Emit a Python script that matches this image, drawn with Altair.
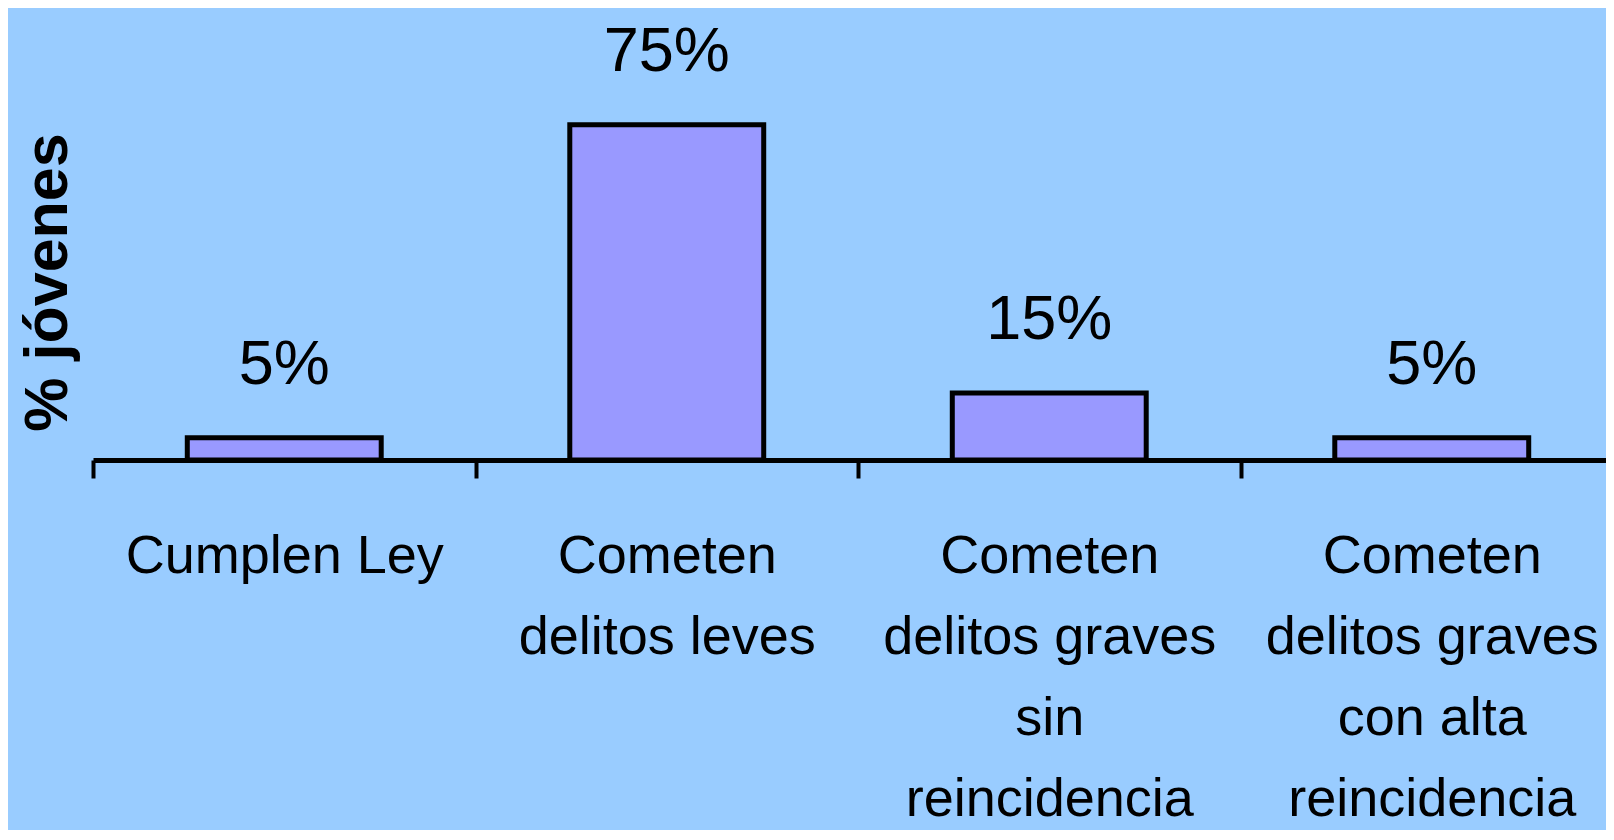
import altair as alt
import pandas as pd

categories = [
    "Cumplen Ley",
    "Cometen\ndelitos leves",
    "Cometen\ndelitos graves\nsin\nreincidencia",
    "Cometen\ndelitos graves\ncon alta\nreincidencia",
]
values = [5, 75, 15, 5]

df = pd.DataFrame({"cat": categories, "value": values})

FONT = "Liberation Sans, Arial, sans-serif"

x_enc = alt.X(
    "cat:N",
    sort=categories,
    scale=alt.Scale(range=[0, 1530], paddingInner=0, paddingOuter=0),
    axis=alt.Axis(
        title=None,
        labelAngle=0,
        labelExpr="split(datum.label, '\\n')",
        labelFont=FONT,
        labelFontSize=54,
        labelColor="black",
        labelLineHeight=81,
        labelBaseline="alphabetic",
        labelPadding=94,
        labelLimit=0,
        tickBand="extent",
        tickSize=18,
        tickWidth=4,
        tickColor="black",
        domainColor="black",
        domainWidth=5,
        grid=False,
    ),
)

y_enc = alt.Y(
    "value:Q",
    scale=alt.Scale(domain=[0, 100], nice=False, zero=True),
    axis=alt.Axis(
        title="% jóvenes",
        labels=False,
        ticks=False,
        domain=False,
        grid=False,
        titleFont=FONT,
        titleFontSize=61,
        titleFontWeight="bold",
        titleColor="black",
        titleAngle=270,
        titleAlign="center",
        titleBaseline="alphabetic",
        titleX=-27,
        titleY=269,
    ),
)

bars = alt.Chart(df).mark_bar(
    color="#9999FF",
    stroke="black",
    strokeWidth=5,
    width=alt.RelativeBandSize(0.507),
).encode(x=x_enc, y=y_enc)

labels = alt.Chart(df).transform_calculate(
    label="datum.value + '%'"
).mark_text(
    font=FONT,
    fontSize=63,
    color="black",
    baseline="alphabetic",
    align="center",
    dy=-54,
).encode(x=alt.X("cat:N", sort=categories), y=alt.Y("value:Q"), text="label:N")

chart = alt.layer(bars, labels).properties(
    width=1513,
    height=447,
    background="#99CCFF",
    autosize=alt.AutoSizeParams(type="none"),
    padding={"left": 85, "top": 5, "right": 0, "bottom": 370},
).configure_view(stroke=None)

chart.save("out.html", embed_options={"renderer": "svg", "actions": False})
